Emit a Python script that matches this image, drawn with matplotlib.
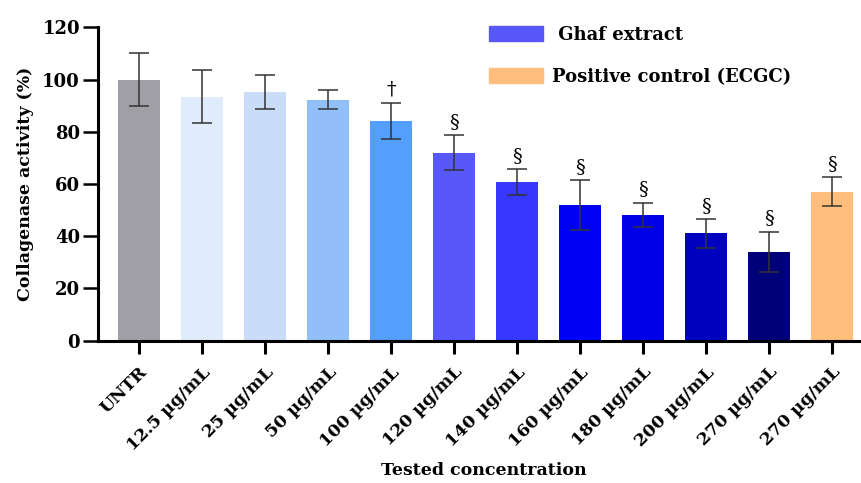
import matplotlib
matplotlib.use('Agg')
import matplotlib.pyplot as plt
import matplotlib.patches as mpatches
import numpy as np

plt.rcParams['font.family'] = ['DejaVu Serif']
plt.rcParams['font.weight'] = 'bold'

# collagenase activity per treatment (mean and SD, % of untreated)
labels = ['UNTR', '12.5 µg/mL', '25 µg/mL', '50 µg/mL', '100 µg/mL', '120 µg/mL',
          '140 µg/mL', '160 µg/mL', '180 µg/mL', '200 µg/mL', '270 µg/mL', '270 µg/mL']
means = [100, 93.5, 95.2, 92.3, 84.2, 72.0, 60.7, 51.9, 48.2, 41.1, 34.1, 57.0]
sds = [10.0, 10.3, 6.5, 3.5, 7.0, 6.6, 4.9, 9.5, 4.7, 5.6, 7.7, 5.5]
marks = ['', '', '', '', '†', '§', '§', '§', '§', '§', '§', '§']
colors = ['#a09fa5', '#e0ecfb', '#c9ddf8', '#93bff9', '#549ffb', '#5757fa',
          '#3737fd', '#0000f6', '#0000e6', '#0000bf', '#000078', '#ffbe7b']

fig = plt.figure(figsize=(8.61, 4.83), dpi=100)
ax = fig.add_axes([0.1138, 0.2946, 0.8862, 0.6489])

x = np.arange(len(labels))
ax.bar(x, means, width=0.66, color=colors, zorder=2)
ax.errorbar(x, means, yerr=sds, fmt='none', ecolor='#333333', elinewidth=1.1,
            capsize=7.5, capthick=1.1, zorder=3)

for xi, m, s, t in zip(x, means, sds, marks):
    if t:
        ax.annotate(t, (xi, m + s), xytext=(0, 3), textcoords='offset points',
                    ha='center', va='bottom', fontsize=14, fontweight='normal')

ax.set_xlim(-0.65, 11.46)
ax.set_ylim(0, 120)
ax.set_yticks([0, 20, 40, 60, 80, 100, 120])
ax.set_xticks(x)
ax.set_xticklabels(labels, rotation=45, ha='right', va='top', rotation_mode='anchor')

for side in ['top', 'right']:
    ax.spines[side].set_visible(False)
for side in ['left', 'bottom']:
    ax.spines[side].set_linewidth(2.2)
ax.tick_params(axis='y', length=11, width=1.8, labelsize=13, pad=2)
ax.tick_params(axis='x', length=9.5, width=2.2, labelsize=12.5, pad=7)

ax.set_ylabel('Collagenase activity (%)', fontsize=12.5, fontweight='bold', labelpad=6)
fig.text(0.562, 0.025, 'Tested concentration', ha='center', va='center',
         fontsize=12.5, fontweight='bold')

handles = [mpatches.Patch(color='#5757fa', label=' Ghaf extract'),
           mpatches.Patch(color='#ffbe7b', label='Positive control (ECGC)')]
ax.legend(handles=handles, loc='upper left', bbox_to_anchor=(0.512, 1.005),
          frameon=False, borderpad=0, borderaxespad=0, handlelength=3.0,
          handleheight=0.9, handletextpad=0.5, labelspacing=1.35,
          prop={'size': 13, 'weight': 'bold'})

fig.savefig('out.png', dpi=100)
